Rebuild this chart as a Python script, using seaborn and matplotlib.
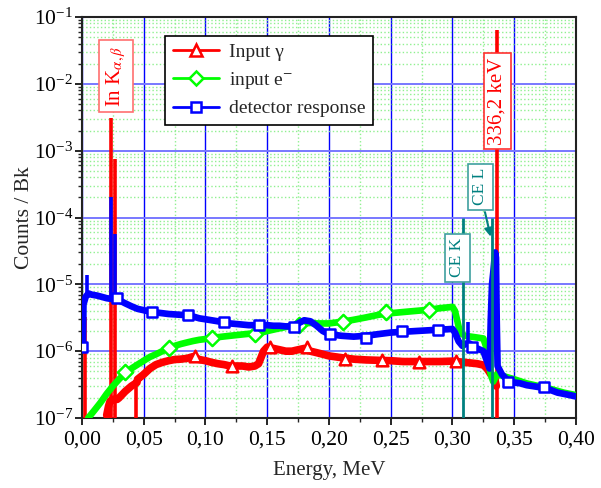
import numpy as np
import pandas as pd
import matplotlib
matplotlib.use('Agg')
import matplotlib.pyplot as plt
import seaborn as sns
from matplotlib.lines import Line2D
from matplotlib.ticker import LogLocator, MultipleLocator, FuncFormatter, NullFormatter, LogFormatterMathtext

# ---------------- data ----------------
# continuum parts of each spectrum
gamma_E = [0.0200, 0.0215, 0.0228, 0.0250, 0.0285, 0.030, 0.035, 0.040, 0.0445,
           0.045, 0.050, 0.055, 0.060, 0.065, 0.070, 0.075, 0.080, 0.085, 0.090, 0.095, 0.100,
           0.105, 0.110, 0.115, 0.120, 0.125, 0.130, 0.135, 0.140, 0.143, 0.147, 0.150, 0.155,
           0.160, 0.165, 0.170, 0.175, 0.180, 0.185, 0.190, 0.195, 0.200, 0.210, 0.220, 0.230,
           0.240, 0.250, 0.260, 0.270, 0.280, 0.290, 0.300, 0.310, 0.320, 0.325, 0.328, 0.331,
           0.334, 0.3355]
gamma_C = [1.1e-7, 1.5e-7, 1.8e-7, 1.9e-7, 1.9e-7, 2.0e-7, 2.5e-7, 3.0e-7, 3.4e-7,
           3.8e-7, 4.5e-7, 5.5e-7, 6.3e-7, 6.8e-7, 7.2e-7, 7.5e-7, 7.6e-7, 7.8e-7, 8.3e-7, 7.5e-7, 7.2e-7,
           6.8e-7, 6.5e-7, 6.3e-7, 6.0e-7, 6.0e-7, 6.0e-7, 5.8e-7, 6.0e-7, 6.5e-7, 1.0e-6, 1.15e-6, 1.1e-6,
           1.05e-6, 1.0e-6, 1.0e-6, 1.05e-6, 1.1e-6, 1.0e-6, 9.5e-7, 9.0e-7, 8.5e-7, 8.0e-7, 7.6e-7, 7.4e-7,
           7.3e-7, 7.2e-7, 7.0e-7, 7.0e-7, 7.0e-7, 7.0e-7, 7.1e-7, 6.8e-7, 6.5e-7, 6.2e-7, 5.5e-7, 4.5e-7,
           4.0e-7, 3.0e-7]

elec_E = [0.004, 0.005, 0.010, 0.015, 0.020, 0.025, 0.030, 0.035, 0.040, 0.045, 0.050, 0.055,
          0.060, 0.065, 0.070, 0.075, 0.080, 0.085, 0.090, 0.095, 0.100, 0.105, 0.110, 0.115,
          0.120, 0.125, 0.130, 0.135, 0.140, 0.145, 0.150, 0.155, 0.160, 0.165, 0.170, 0.175,
          0.180, 0.185, 0.190, 0.195, 0.200, 0.210, 0.220, 0.230, 0.240, 0.250, 0.260, 0.270,
          0.280, 0.290, 0.300, 0.302, 0.304, 0.306, 0.310, 0.315, 0.320, 0.325, 0.327, 0.329,
          0.331, 0.333, 0.336, 0.340, 0.350, 0.360, 0.370, 0.380, 0.390, 0.400]
elec_C = [7e-8, 1.0e-7, 1.3e-7, 1.7e-7, 2.3e-7, 3.0e-7, 3.8e-7, 4.7e-7, 5.5e-7, 6.3e-7, 7.2e-7, 8.2e-7,
          9.0e-7, 1.0e-6, 1.1e-6, 1.2e-6, 1.28e-6, 1.35e-6, 1.42e-6, 1.48e-6, 1.52e-6, 1.58e-6, 1.62e-6, 1.66e-6,
          1.7e-6, 1.74e-6, 1.78e-6, 1.82e-6, 1.85e-6, 1.9e-6, 2.0e-6, 2.1e-6, 2.2e-6, 2.3e-6, 2.4e-6, 2.5e-6,
          2.6e-6, 2.65e-6, 2.6e-6, 2.6e-6, 2.6e-6, 2.75e-6, 2.95e-6, 3.2e-6, 3.5e-6, 3.7e-6, 3.85e-6, 4.0e-6,
          4.15e-6, 4.4e-6, 4.6e-6, 4.0e-6, 2.8e-6, 1.9e-6, 1.7e-6, 1.65e-6, 1.6e-6, 1.55e-6, 1.2e-6, 7.0e-7,
          4.5e-7, 3.5e-7, 4.5e-7, 4.3e-7, 3.8e-7, 3.3e-7, 3.0e-7, 2.7e-7, 2.4e-7, 2.2e-7]

det_E = [0.0, 0.0008, 0.0012, 0.003, 0.0052, 0.008, 0.012, 0.016, 0.020, 0.025, 0.030, 0.035,
         0.040, 0.045, 0.050, 0.055, 0.060, 0.065, 0.070, 0.075, 0.080, 0.085, 0.090, 0.095,
         0.100, 0.105, 0.110, 0.115, 0.120, 0.125, 0.130, 0.135, 0.140, 0.145, 0.150, 0.155,
         0.160, 0.165, 0.170, 0.175, 0.180, 0.185, 0.190, 0.195, 0.200, 0.210, 0.220, 0.230,
         0.240, 0.250, 0.260, 0.270, 0.280, 0.290, 0.300, 0.302, 0.305, 0.308, 0.311, 0.314,
         0.317, 0.320, 0.325, 0.328, 0.330, 0.331, 0.332, 0.333, 0.3345, 0.3352, 0.3358, 0.3365,
         0.340, 0.345, 0.350, 0.355, 0.360, 0.365, 0.370, 0.375, 0.380, 0.385, 0.390, 0.395, 0.400]
det_C = [1.2e-6, 1.2e-6, 5.0e-6, 6.5e-6, 7.3e-6, 7.0e-6, 6.8e-6, 6.5e-6, 6.2e-6, 6.0e-6, 5.8e-6, 5.2e-6,
         4.7e-6, 4.3e-6, 4.1e-6, 3.9e-6, 3.8e-6, 3.7e-6, 3.6e-6, 3.55e-6, 3.5e-6, 3.45e-6, 3.3e-6, 3.1e-6,
         3.0e-6, 2.9e-6, 2.8e-6, 2.7e-6, 2.6e-6, 2.55e-6, 2.5e-6, 2.45e-6, 2.45e-6, 2.45e-6, 2.45e-6, 2.4e-6,
         2.4e-6, 2.35e-6, 2.35e-6, 2.6e-6, 2.9e-6, 2.8e-6, 2.4e-6, 2.0e-6, 1.8e-6, 1.7e-6, 1.65e-6, 1.7e-6,
         1.8e-6, 1.9e-6, 1.95e-6, 2.0e-6, 2.05e-6, 2.1e-6, 2.15e-6, 1.9e-6, 1.4e-6, 1.2e-6, 1.3e-6, 1.3e-6,
         1.15e-6, 1.1e-6, 1.0e-6, 7.0e-7, 5.5e-7, 3.0e-6, 1.0e-5, 1.5e-5, 3.0e-5, 2.5e-5, 3.0e-6, 6.0e-7,
         4.5e-7, 3.6e-7, 3.4e-7, 3.3e-7, 3.1e-7, 3.0e-7, 2.9e-7, 2.8e-7, 2.6e-7, 2.4e-7, 2.3e-7, 2.2e-7, 2.1e-7]

# narrow lines (position, lower end, upper end)
gamma_pk_E = [0.0024, 0.0235, 0.0270, 0.0440, 0.3362]
gamma_pk_lo = [1e-8, 1e-8, 1e-8, 1e-8, 1e-8]
gamma_pk_hi = [3.2e-6, 3.1e-3, 7.6e-4, 3.4e-7, 6.4e-2]
det_pk_E = [0.0042, 0.0235, 0.0268, 0.3125]
det_pk_lo = [7.0e-6, 6.0e-6, 6.0e-6, 1.3e-6]
det_pk_hi = [1.4e-5, 2.05e-4, 5.6e-5, 2.7e-6]

# marker positions along each curve
gamma_mk_E = [0.0915, 0.1215, 0.152, 0.182, 0.213, 0.243, 0.273, 0.303]
gamma_mk_C = [8.5e-7, 6.0e-7, 1.17e-6, 1.15e-6, 7.6e-7, 7.4e-7, 6.9e-7, 7.2e-7]
elec_mk_E = [0.035, 0.0705, 0.105, 0.140, 0.176, 0.211, 0.246, 0.281]
elec_mk_C = [4.9e-7, 1.1e-6, 1.55e-6, 1.8e-6, 2.5e-6, 2.7e-6, 3.8e-6, 4.1e-6]
det_mk_E = [0.0, 0.028, 0.057, 0.086, 0.115, 0.143, 0.172, 0.201, 0.230, 0.259, 0.288, 0.316, 0.345, 0.374]
det_mk_C = [1.17e-6, 6.2e-6, 3.8e-6, 3.5e-6, 2.7e-6, 2.5e-6, 2.3e-6, 1.8e-6, 1.6e-6, 2.0e-6, 2.05e-6,
            1.17e-6, 3.5e-7, 2.9e-7]

series_names = ['Input \u03b3', 'input e$^{-}$', 'detector response']
series_colors = ['#ff0000', '#00ff00', '#0000ff']
series_markers = ['^', 'D', 's']

ce_E = [0.3088, 0.3318]
ce_top = [9.7e-5, 1.0e-4]

xticks = [0.00, 0.05, 0.10, 0.15, 0.20, 0.25, 0.30, 0.35, 0.40]

# ---------------- style ----------------
sns.set_style('ticks')
plt.rcParams['font.family'] = ['Liberation Serif', 'DejaVu Serif']
plt.rcParams['mathtext.fontset'] = 'stix'

fig = plt.figure(figsize=(6.01, 4.88), dpi=100)
ax = fig.add_axes([0.1364, 0.1434, 0.822, 0.8218])
ax.set_yscale('log')

curves = [(gamma_E, gamma_C, gamma_mk_E, gamma_mk_C),
          (elec_E, elec_C, elec_mk_E, elec_mk_C),
          (det_E, det_C, det_mk_E, det_mk_C)]
lws = [5.5, 4.8, 4.8]
msz = [70, 60, 60]
for i, (E, C, mE, mC) in enumerate(curves):
    df = pd.DataFrame({'E': E, 'C': C})
    sns.lineplot(data=df, x='E', y='C', ax=ax, color=series_colors[i], lw=lws[i],
                 estimator=None, sort=False, legend=False, zorder=3 + i)
    if i == 0:
        ax.vlines(gamma_pk_E, gamma_pk_lo, gamma_pk_hi, color=series_colors[0], lw=2.6, zorder=3)
    if i == 2:
        ax.vlines(det_pk_E, det_pk_lo, det_pk_hi, color=series_colors[2], lw=2.6, zorder=5)
    dm = pd.DataFrame({'E': mE, 'C': mC})
    sns.scatterplot(data=dm, x='E', y='C', ax=ax, marker=series_markers[i], s=msz[i],
                    facecolor='white', edgecolor=series_colors[i], linewidth=1.8,
                    legend=False, zorder=3.5 + i)

# CE lines
ax.vlines(ce_E, 1e-8, ce_top, color='#008080', lw=2, zorder=8)

ax.set_xlim(0, 0.40)
ax.set_ylim(1e-7, 1e-1)

# grids
ax.set_axisbelow(True)
ax.xaxis.set_major_locator(plt.FixedLocator(xticks))
ax.xaxis.set_minor_locator(MultipleLocator(0.025))
ax.yaxis.set_major_locator(LogLocator(base=10, numticks=10))
ax.yaxis.set_minor_locator(LogLocator(base=10, subs=np.arange(2, 10), numticks=20))
ax.yaxis.set_minor_formatter(NullFormatter())
ax.yaxis.set_major_formatter(LogFormatterMathtext())
ax.xaxis.set_major_formatter(FuncFormatter(lambda v, p: f"{v:.2f}".replace('.', ',')))
ax.xaxis.get_offset_text().set_visible(False)
ax.yaxis.get_offset_text().set_visible(False)

ax.grid(which='minor', axis='both', color='#90f090', ls=':', lw=1.0, zorder=0)
ax.xaxis.grid(True, which='major', color='#0000ff', lw=1.0, zorder=1)
ax.yaxis.grid(True, which='major', color='#7878ff', lw=1.4, zorder=1)

ax.tick_params(which='major', direction='out', length=5, width=1.2, labelsize=15.5,
               colors='black', pad=1.5)
ax.tick_params(which='minor', direction='out', length=3, width=1.0)
ax.tick_params(axis='x', which='major', pad=4)
ax.tick_params(top=False, right=False)
for s in ax.spines.values():
    s.set_color('#222222')
    s.set_linewidth(1.5)

ax.set_xlabel('Energy, MeV', fontsize=15, labelpad=8)
ax.set_ylabel('Counts / Bk', fontsize=15.5, labelpad=0)

# annotations
ax.text(0.0276, 1.3e-2, r'In K$_{\alpha,\beta}$', rotation=90, ha='center', va='center',
        color='red', fontsize=15, zorder=10,
        bbox=dict(boxstyle='square,pad=0.25', fc='white', ec='#ff7070', lw=1.2))
ax.text(0.3363, 5.5e-3, '336,2 keV', rotation=90, ha='center', va='center',
        color='red', fontsize=15, zorder=10,
        bbox=dict(boxstyle='square,pad=0.2', fc='white', ec='#ff3030', lw=1.2))
ax.text(0.3039, 2.5e-5, 'CE K', rotation=90, ha='center', va='center',
        color='#008080', fontsize=12.5, zorder=10,
        bbox=dict(boxstyle='square,pad=0.25', fc='white', ec='#40a0a0', lw=1.2))
ax.text(0.3225, 2.9e-4, 'CE L', rotation=90, ha='center', va='center',
        color='#008080', fontsize=12.5, zorder=10,
        bbox=dict(boxstyle='square,pad=0.25', fc='white', ec='#40a0a0', lw=1.2))
ax.annotate('', xy=(0.3314, 4.7e-5), xytext=(0.3258, 1.32e-4),
            arrowprops=dict(arrowstyle='-|>', color='#008080', lw=1.5, mutation_scale=12), zorder=10)

# legend
handles = [Line2D([0], [0], color=series_colors[i], lw=2, marker=series_markers[i],
                  mfc='white', mec=series_colors[i], mew=1.8, ms=8 if i == 0 else 7)
           for i in range(3)]
leg = ax.legend(handles, series_names, loc='upper left', bbox_to_anchor=(0.168, 0.953),
                frameon=True, fancybox=False, edgecolor='black', framealpha=1,
                borderaxespad=0, handlelength=2.4, fontsize=14, labelspacing=0.45,
                borderpad=0.4, handletextpad=0.5)
leg.get_frame().set_linewidth(1.2)
leg.set_zorder(20)

fig.savefig('out.png', dpi=100)
